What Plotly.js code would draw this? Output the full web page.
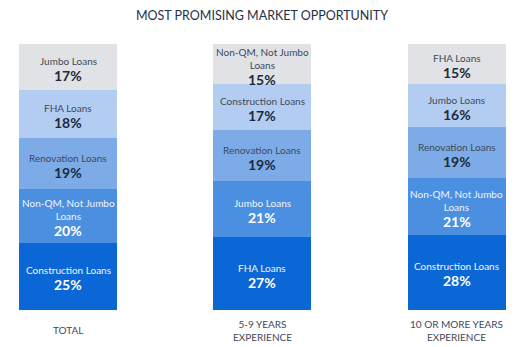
<!DOCTYPE html>
<html>
<head>
<meta charset="utf-8">
<script src="https://cdn.plot.ly/plotly-3.0.1.min.js"></script>
<style>
html,body{margin:0;padding:0;background:#ffffff;}
#chart{width:524px;height:347px;}
</style>
</head>
<body>
<div id="chart"></div>
<script>
// Categories (bars)
const categories = ["TOTAL", "5-9 YEARS<br>EXPERIENCE", "10 OR MORE YEARS<br>EXPERIENCE"];

// Stack levels, bottom to top: loan names and percentages per bar
const level1Names = ["Construction Loans", "FHA Loans", "Construction Loans"];
const level1Values = [25, 27, 28];
const level2Names = ["Non-QM, Not Jumbo<br>Loans", "Jumbo Loans", "Non-QM, Not Jumbo<br>Loans"];
const level2Values = [20, 21, 21];
const level3Names = ["Renovation Loans", "Renovation Loans", "Renovation Loans"];
const level3Values = [19, 19, 19];
const level4Names = ["FHA Loans", "Construction Loans", "Jumbo Loans"];
const level4Values = [18, 17, 16];
const level5Names = ["Jumbo Loans", "Non-QM, Not Jumbo<br>Loans", "FHA Loans"];
const level5Values = [17, 15, 15];

const levels = [
  {names: level1Names, values: level1Values, color: "#0b66d6", label: "#f2f6fd", pct: "#ffffff"},
  {names: level2Names, values: level2Values, color: "#4b90e0", label: "#eef4fc", pct: "#ffffff"},
  {names: level3Names, values: level3Values, color: "#7dabe8", label: "#3d4a5a", pct: "#1c2a3b"},
  {names: level4Names, values: level4Values, color: "#b3cdf2", label: "#3d4a5a", pct: "#1c2a3b"},
  {names: level5Names, values: level5Values, color: "#e0e2e6", label: "#3d4a5a", pct: "#1c2a3b"}
];

const FONT = "Lato, 'Open Sans', sans-serif";
const NAME_SIZE = 10;
const PCT_SIZE = 14;

const traces = levels.map(lv => ({
  type: "bar",
  x: categories,
  y: lv.values,
  width: 0.505,
  marker: {color: lv.color, line: {width: 0}},
  hoverinfo: "skip",
  showlegend: false
}));

// Segment labels placed at the middle of each stacked segment
const annotations = [];
const base = categories.map(() => 0);
levels.forEach(lv => {
  lv.values.forEach((v, i) => {
    const mid = base[i] + v / 2;
    base[i] += v;
    const nLines = lv.names[i].split("<br>").length;
    const drop = (nLines - 1) * NAME_SIZE * 1.3 / 2;
    annotations.push({
      x: categories[i], y: mid, xref: "x", yref: "y",
      text: lv.names[i], showarrow: false,
      xanchor: "center", yanchor: "bottom", yshift: -2 - drop,
      font: {family: FONT, size: NAME_SIZE, color: lv.label}
    });
    annotations.push({
      x: categories[i], y: mid, xref: "x", yref: "y",
      text: "<b>" + v + "%</b>", showarrow: false,
      xanchor: "center", yanchor: "top", yshift: 2 - drop,
      font: {family: FONT, size: PCT_SIZE, color: lv.pct}
    });
  });
});

// Category labels under the bars, vertically centred
categories.forEach(c => {
  annotations.push({
    x: c, y: -0.077, xref: "x", yref: "paper",
    text: c, showarrow: false,
    xanchor: "center", yanchor: "middle",
    font: {family: FONT, size: 10, color: "#3d4a5a"}
  });
});

const layout = {
  width: 524,
  height: 347,
  margin: {l: 0, r: 0, t: 44, b: 37},
  paper_bgcolor: "#ffffff",
  plot_bgcolor: "rgba(0,0,0,0)",
  barmode: "stack",
  bargap: 0,
  title: {
    text: "MOST PROMISING MARKET OPPORTUNITY",
    font: {family: FONT, size: 12.5, color: "#1f3049"},
    x: 0.5, xanchor: "center", y: 0.955, yanchor: "middle"
  },
  xaxis: {
    type: "category",
    range: [-0.35, 2.347],
    showgrid: false, zeroline: false, showline: false,
    ticks: "",
    showticklabels: false
  },
  yaxis: {
    range: [0, 99],
    visible: false,
    fixedrange: true
  },
  annotations: annotations
};

Plotly.newPlot("chart", traces, layout, {displayModeBar: false, staticPlot: true});
</script>
</body>
</html>
